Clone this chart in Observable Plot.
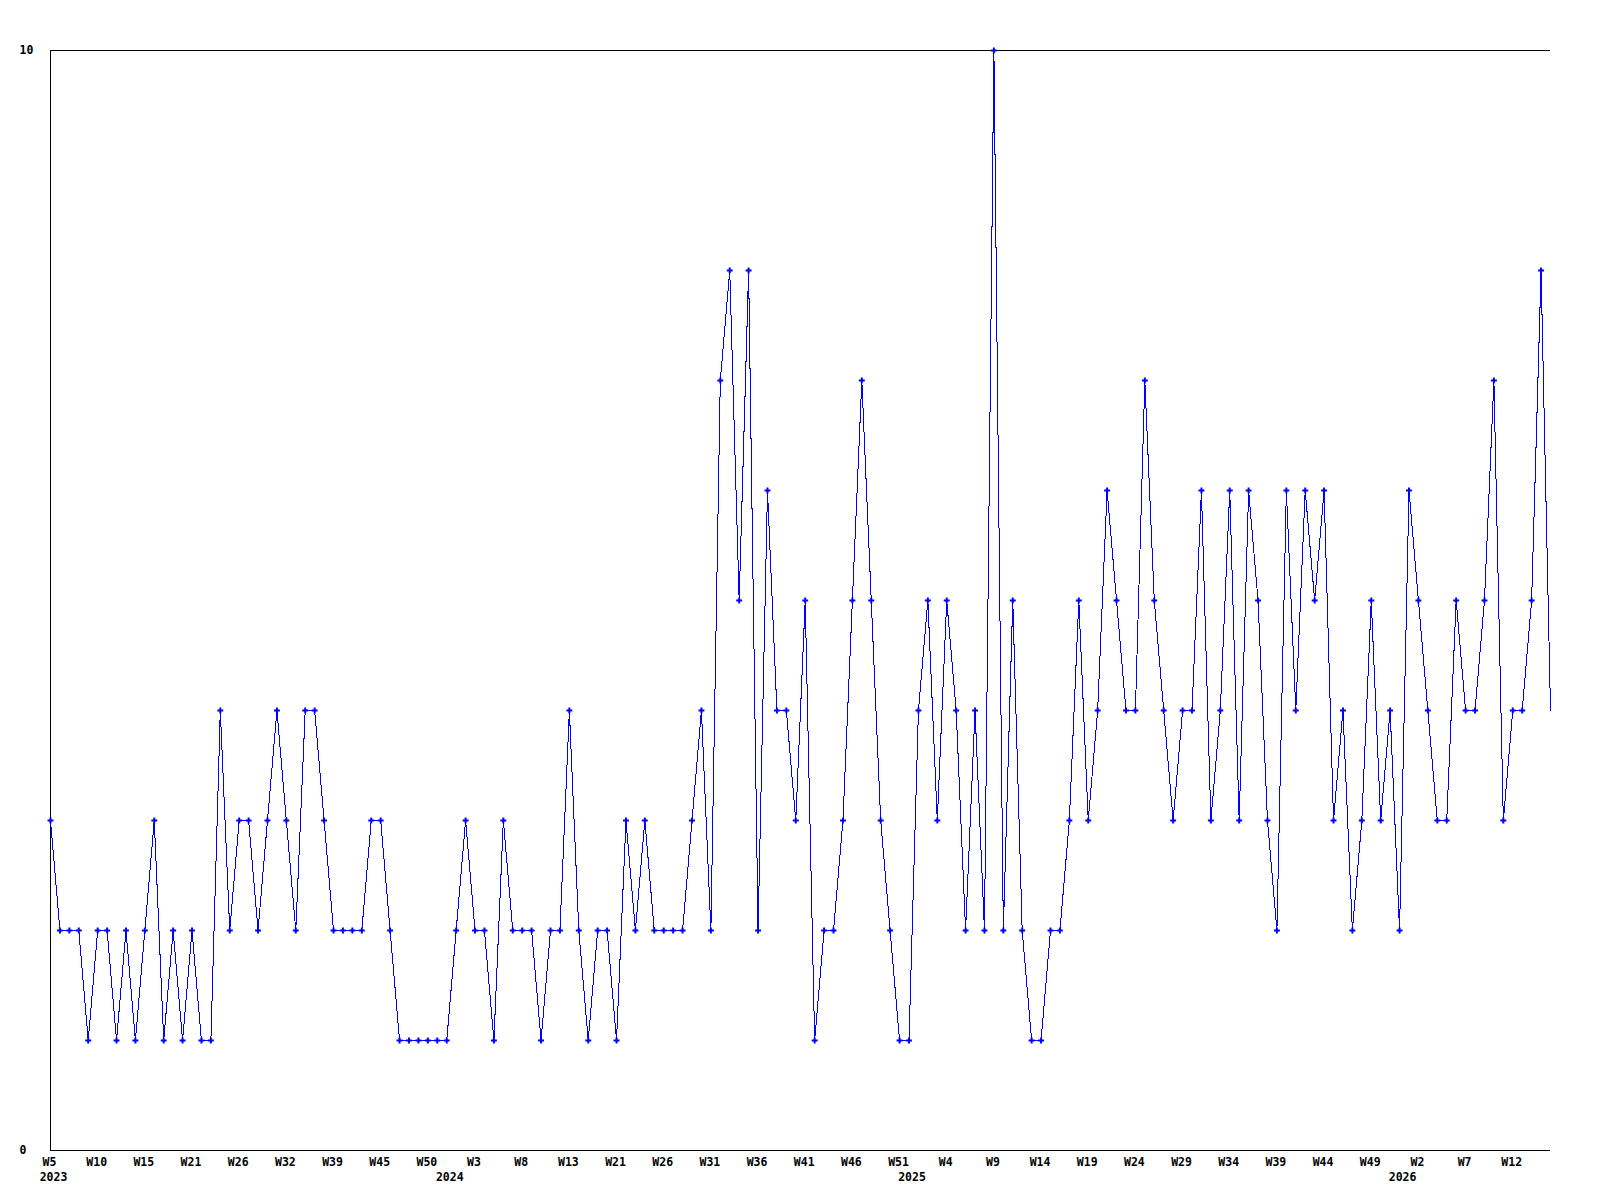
<!DOCTYPE html>
<html>
<head>
<meta charset="utf-8">
<script src="https://cdn.jsdelivr.net/npm/d3@7"></script>
<script src="https://cdn.jsdelivr.net/npm/@observablehq/plot@0.6"></script>
<style>
  html, body { margin: 0; padding: 0; background: #ffffff; }
  #chart svg { display: block; }
</style>
</head>
<body>
<div id="chart"></div>
<script>
// Weekly counts, one per point, 2023 W5 through 2026 (160 weeks with data)
const weeklyValues = [
  3,2,2,2,1,2,2,1,2,1, 2,3,1,2,1,2,1,1,4,2,
  3,3,2,3,4,3,2,4,4,3, 2,2,2,2,3,3,2,1,1,1,
  1,1,1,2,3,2,2,1,3,2, 2,2,1,2,2,4,2,1,2,2,
  1,3,2,3,2,2,2,2,3,4, 2,7,8,5,8,2,6,4,4,3,
  5,1,2,2,3,5,7,5,3,2, 1,1,4,5,3,5,4,2,4,2,
  10,2,5,2,1,1,2,2,3,5, 3,4,6,5,4,4,7,5,4,3,
  4,4,6,3,4,6,3,6,5,3, 2,6,4,6,5,6,3,4,2,3,
  5,3,4,2,6,5,4,3,3,5, 4,4,5,7,3,4,4,5,8,4
];

// Week tick labels, one on every 5th point
const weekTickLabels = [
  "W5","W10","W15","W21","W26","W32","W39","W45","W50","W3",
  "W8","W13","W21","W26","W31","W36","W41","W46","W51","W4",
  "W9","W14","W19","W24","W29","W34","W39","W44","W49","W2",
  "W7","W12"
];
const weekTickEvery = 5;

// Year labels and the point index they sit under
const yearLabels = ["2023", "2024", "2025", "2026"];
const yearTickIndex = [0, 42, 91, 143];

const yTickValues = [0, 10];

const data = weeklyValues.map((v, i) => ({ i, v }));
const weekTickIndex = weekTickLabels.map((_, k) => k * weekTickEvery);
const weekLabelOf = new Map(weekTickIndex.map((idx, k) => [idx, weekTickLabels[k]]));
const yearLabelOf = new Map(yearTickIndex.map((idx, k) => [idx, yearLabels[k]]));

const chart = Plot.plot({
  width: 1600,
  height: 1200,
  marginLeft: 50,
  marginRight: 50,
  marginTop: 50,
  marginBottom: 50,
  x: { domain: [0, weeklyValues.length - 1], label: null },
  y: { domain: [0, 10], label: null },
  style: {
    fontFamily: "'DejaVu Sans Mono', monospace",
    fontSize: "11.5px",
    fontWeight: "bold",
    background: "#ffffff",
    color: "#000000"
  },
  marks: [
    Plot.ruleY([0, 10], { stroke: "#000000", strokeWidth: 1 }),
    Plot.ruleX([0], { stroke: "#000000", strokeWidth: 1 }),
    Plot.line(data, { x: "i", y: "v", stroke: "#0000ff", strokeWidth: 1, shapeRendering: "crispEdges" }),
    Plot.dot(data.slice(0, -1), { x: "i", y: "v", symbol: "cross", r: 2.5, fill: "#0000ff", stroke: null }),
    Plot.axisX({
      ticks: weekTickIndex,
      tickFormat: (d) => weekLabelOf.get(d),
      tickSize: 0,
      tickPadding: 7,
      dx: -1,
      label: null,
      fill: "#000000"
    }),
    Plot.axisX({
      ticks: yearTickIndex,
      tickFormat: (d) => yearLabelOf.get(d),
      tickSize: 0,
      tickPadding: 22,
      dx: 3,
      label: null,
      fill: "#000000"
    }),
    Plot.axisY({
      ticks: yTickValues,
      tickFormat: (d) => String(d),
      tickSize: 0,
      tickPadding: 31,
      textAnchor: "start",
      label: null,
      fill: "#000000"
    })
  ]
});

document.getElementById("chart").appendChild(chart);
</script>
</body>
</html>
